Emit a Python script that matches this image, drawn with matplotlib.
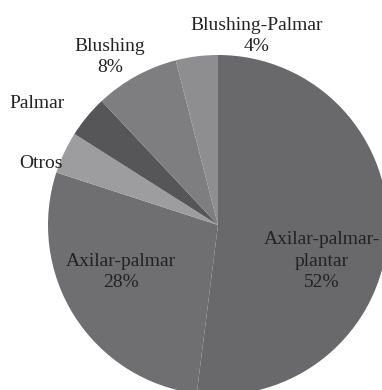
import matplotlib
matplotlib.use("Agg")
import matplotlib.pyplot as plt
import numpy as np

# slices, clockwise from 12 o'clock
labels = ['Axilar-palmar-\nplantar', 'Axilar-palmar', 'Otros', 'Palmar', 'Blushing', 'Blushing-Palmar']
values = [52, 28, 4, 4, 8, 4]
colors = ['#69696b', '#6f6f71', '#9d9d9f', '#565658', '#7e7e80', '#8e8e90']
show_pct = [True, True, False, False, True, True]

plt.rcParams['font.family'] = ['Liberation Serif', 'DejaVu Serif']

fig = plt.figure(figsize=(3.82, 3.90), dpi=100)
ax = fig.add_axes([0, 0, 1, 1])

# work in pixel units so the pie sits where it does in the original
cx, cy, r = 218, 165, 170
wedges, _ = ax.pie(values, colors=colors, startangle=90, counterclock=False,
                   center=(cx, cy), radius=r, frame=True,
                   wedgeprops=dict(linewidth=0))
ax.set_xlim(0, 382)
ax.set_ylim(0, 390)
ax.set_aspect('equal')
ax.axis('off')

# label centres, measured from the top-left of the picture
label_pos = [(322, 261), (121, 272), (41, 163), (37, 103), (110, 57), (257, 36)]
for lab, v, sp, (x, y) in zip(labels, values, show_pct, label_pos):
    txt = f'{lab}\n{v}%' if sp else lab
    ax.text(x, 390 - y, txt, ha='center', va='center', fontsize=14,
            color='#222222', linespacing=1.35)

fig.savefig('out.png', dpi=100, facecolor='white')
